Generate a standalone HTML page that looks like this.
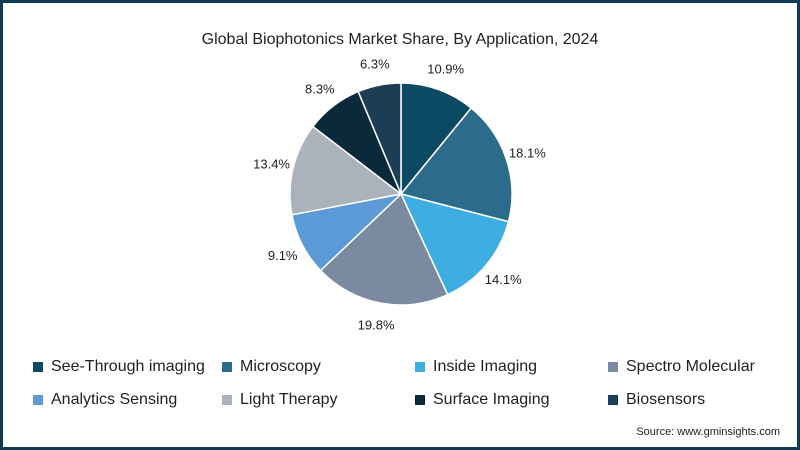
<!DOCTYPE html>
<html><head><meta charset="utf-8"><style>
body{margin:0;width:800px;height:450px;overflow:hidden;background:#fff;font-family:"Liberation Sans",sans-serif}
#frame{position:absolute;left:0;top:0;width:794px;height:444px;border:3px solid #0f3c52;background:#fff}
.t{position:absolute;color:#222}
.leg{position:absolute;font-size:16px;color:#222;display:flex;align-items:center}
.leg span.sw{width:10px;height:10px;display:inline-block;margin-right:8px}
</style></head><body>
<div id="frame"></div>
<div class="t" style="left:0;width:800px;text-align:center;top:31px;font-size:16px">Global Biophotonics Market Share, By Application, 2024</div>
<svg id="pie" width="800" height="450" style="position:absolute;left:0;top:0"></svg>
<div id="legend"></div>
<div class="t" style="right:20px;top:426px;font-size:11px">Source: www.gminsights.com</div>
<script>
const categories=["See-Through imaging","Microscopy","Inside Imaging","Spectro Molecular","Analytics Sensing","Light Therapy","Surface Imaging","Biosensors"];
const values=[10.9,18.1,14.1,19.8,9.1,13.4,8.3,6.3];
const colors=["#0c4a64","#2d6b8c","#3eaee2","#7a8aa0","#5b9ad6","#aab3bc","#0a2a3b","#1c3e55"];
const svg=document.getElementById('pie');const NS="http://www.w3.org/2000/svg";
const cx=401,cy=194,r=111;const total=values.reduce((a,b)=>a+b,0);
let a0=0;
values.forEach((v,i)=>{
 const a1=a0+v/total*2*Math.PI;
 const p=(a)=>[cx+r*Math.sin(a),cy-r*Math.cos(a)];
 const [x0,y0]=p(a0),[x1,y1]=p(a1);
 const path=document.createElementNS(NS,'path');
 path.setAttribute('d',`M${cx},${cy}L${x0},${y0}A${r},${r} 0 ${a1-a0>Math.PI?1:0} 1 ${x1},${y1}Z`);
 path.setAttribute('fill',colors[i]);path.setAttribute('stroke','#fff');path.setAttribute('stroke-width','1.5');
 
 
 svg.appendChild(path);
 const am=(a0+a1)/2,lr=r+22;
 const tx=document.createElementNS(NS,'text');
 tx.setAttribute('x',cx+lr*Math.sin(am));tx.setAttribute('y',cy-lr*Math.cos(am)+5);
 tx.setAttribute('text-anchor','middle');tx.setAttribute('font-size','13');tx.setAttribute('fill','#222');
 tx.setAttribute('font-family','Liberation Sans, sans-serif');
 tx.textContent=v.toFixed(1)+'%';
 
 
 svg.appendChild(tx);
 a0=a1;
});
const colX=[33,222,415,608],rowY=[358,391];
const lg=document.getElementById('legend');
categories.forEach((c,i)=>{
 const d=document.createElement('div');d.className='leg';
 d.style.left=colX[i%4]+'px';d.style.top=rowY[Math.floor(i/4)]+'px';
 d.innerHTML=`<span class="sw" style="background:${colors[i]}"></span>${c}`;
 
 
 lg.appendChild(d);
});
</script>
</body></html>
